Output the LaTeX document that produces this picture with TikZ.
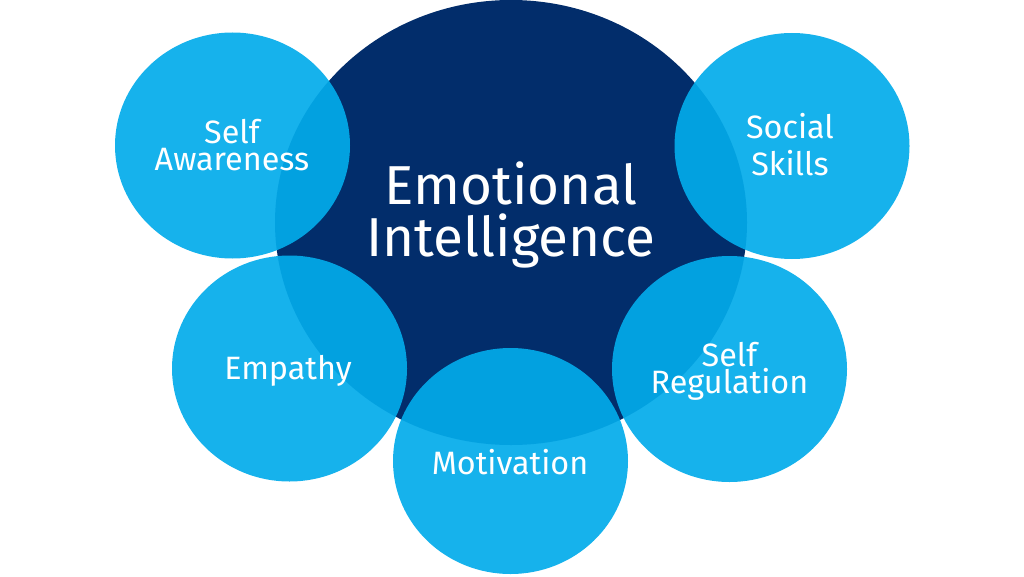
\documentclass[tikz,border=0pt]{standalone}
\usepackage{fontspec}
\setmainfont{Fira Sans}
\usepackage{tikz}
\definecolor{navy}{RGB}{2,45,107}
\definecolor{sky}{RGB}{2,171,234}

\begin{document}
\begin{tikzpicture}[x=0.025cm,y=-0.025cm,
    big/.style={text=white,align=center,font=\fontsize{39}{37}\selectfont},
    small/.style={text=white,align=center,font=\fontsize{23}{19.2}\selectfont}]

\useasboundingbox (0,0) rectangle (1024,577);

\coordinate (ei) at (511,222.5);
\coordinate (sa) at (232.5,145.5);
\coordinate (ss) at (792,146);
\coordinate (em) at (289.5,368.5);
\coordinate (sr) at (729.5,369);
\coordinate (mo) at (510.5,461);

\fill[navy] (ei) ellipse [x radius=236, y radius=222.5];

\foreach \i in {sa,ss,em,sr,mo}
    \fill[sky, opacity=0.92] (\i) ellipse [x radius=117.5, y radius=113];

\node[big] (eitext) at (511,214.5) {Emotional\\Intelligence};
\node[small] (satext) at (232,145.5) {Self\\Awareness};
\node[small] (sstext) at (790,145) {Social\\[7.1pt]Skills};
\node[small] (emtext) at (288,370.5) {Empathy};
\node[small] (srtext) at (729.5,371) {Self\\Regulation};
\node[small] (motext) at (510,462) {Motivation};

\end{tikzpicture}
\end{document}
